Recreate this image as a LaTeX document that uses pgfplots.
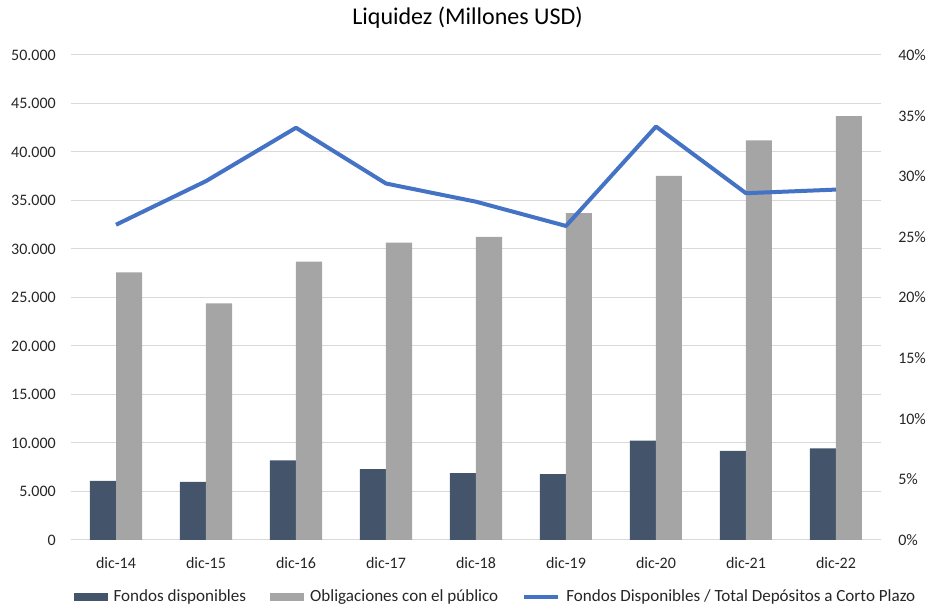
\documentclass[border=0pt]{standalone}
\usepackage{pgfplots}
\pgfplotsset{compat=1.18}
\usepackage{pgfplotstable}
\usepackage{fontspec}
\setmainfont{Carlito}
\definecolor{darkbar}{HTML}{44546A}
\definecolor{graybar}{HTML}{A5A5A5}
\definecolor{lineblue}{HTML}{4472C4}
\definecolor{gridgray}{HTML}{D9D9D9}
\definecolor{txt}{HTML}{262626}

\pgfplotstableread{
x fondos oblig ratio
0 6100 27600 26.0
1 6000 24400 29.6
2 8200 28700 34.0
3 7300 30650 29.4
4 6900 31250 27.9
5 6800 33700 25.9
6 10250 37550 34.1
7 9200 41200 28.6
8 9450 43700 28.9
}\datatable

\begin{document}
\begin{tikzpicture}
\pgfplotsset{
  common/.style={
    scale only axis, width=607.5pt, height=363.75pt,
    xmin=-0.5, xmax=8.5, at={(0,0)}, anchor=south west,
    /pgf/number format/assume math mode=true,
    tick style={draw=none},
    tick label style={font=\fontsize{12}{14}\selectfont, text=txt, inner sep=0pt},
  },
}
\begin{axis}[common,
  ymin=0, ymax=50000, ytick={0,5000,...,50000},
  ymajorgrids, grid style={gridgray, line width=0.75pt},
  axis x line*=bottom, axis y line*=left,
  y axis line style={draw=none},
  x axis line style={gridgray, line width=0.75pt, -},
  scaled y ticks=false,
  yticklabel style={/pgf/number format/1000 sep={.}},
  yticklabel shift=11.25pt,
  xticklabel shift=8.5pt,
  xtick=data,
  xticklabels={dic-14,dic-15,dic-16,dic-17,dic-18,dic-19,dic-20,dic-21,dic-22},
  ybar=0pt, bar width=19.5pt,
  legend style={at={(0.5228,-0.1175)}, anchor=center, draw=none, fill=none,
    font=\fontsize{12.8}{14}\selectfont, text=txt,
    nodes={inner sep=0pt},
    /tikz/every odd column/.append style={column sep=4.5pt},
    /tikz/every even column/.append style={column sep=18pt}},
  legend columns=3,
]
\addplot[fill=darkbar, draw=none,
  legend image code/.code={\fill[darkbar] (0pt,-3.1pt) rectangle (25.5pt,3.1pt);}]
  table[x=x, y=fondos]{\datatable};
\addlegendentry{Fondos disponibles}
\addplot[fill=graybar, draw=none,
  legend image code/.code={\fill[graybar] (0pt,-3.1pt) rectangle (25.5pt,3.1pt);}]
  table[x=x, y=oblig]{\datatable};
\addlegendentry{Obligaciones con el público}
\addlegendimage{legend image code/.code={\draw[lineblue, line width=3pt] (0pt,0pt) -- (25.5pt,0pt);}}
\addlegendentry{Fondos Disponibles / Total Depósitos a Corto Plazo}
\end{axis}

\begin{axis}[common,
  ymin=0, ymax=40, ytick={0,5,...,40},
  axis y line*=right, axis x line=none,
  y axis line style={draw=none},
  yticklabel={\pgfmathprintnumber{\tick}\%},
  yticklabel shift=12.75pt,
]
\addplot[lineblue, line width=3pt, line join=round, mark=none]
  table[x=x, y=ratio]{\datatable};
\end{axis}

\node[font=\fontsize{18}{21}\selectfont, text=black] at (297.4pt, 391.5pt) {Liquidez (Millones USD)};

\pgfresetboundingbox
\path[use as bounding box] (-53.25pt,-49.5pt) rectangle (642pt,405pt);
\end{tikzpicture}
\end{document}
